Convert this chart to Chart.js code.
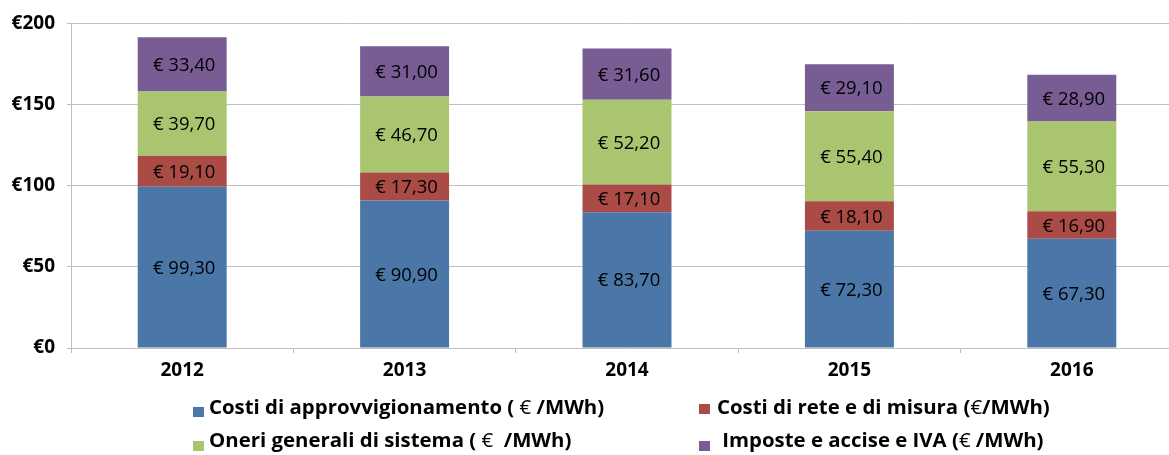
<!DOCTYPE html>
<html><head><meta charset="utf-8">
<script src="https://cdn.jsdelivr.net/npm/chart.js@4/dist/chart.umd.min.js"></script>
<style>
html,body{margin:0;padding:0;background:#fff;overflow:hidden;width:1169px;height:455px;}
#wrap{position:absolute;left:0;top:0;width:1183px;height:455px;}
#legend{position:absolute;left:0;top:0;width:1169px;height:455px;pointer-events:none;font-family:"Open Sans",sans-serif;font-weight:bold;font-size:20.4px;line-height:26px;color:#000;}
.txt{position:absolute;white-space:nowrap;}
.sw{position:absolute;width:11px;height:10px;}
.eu{font-weight:normal;}
</style></head>
<body>
<div id="wrap"><canvas id="c" width="1183" height="455"></canvas></div>
<div id="legend"></div>
<script>
const categories = ['2012', '2013', '2014', '2015', '2016'];
const seriesNames = [
  'Costi di approvvigionamento ( € /MWh)',
  'Costi di rete e di misura (€/MWh)',
  'Oneri generali di sistema ( €  /MWh)',
  ' Imposte e accise e IVA (€ /MWh)'
];
const approvvigionamento = [99.3, 90.9, 83.7, 72.3, 67.3];
const reteMisura = [19.1, 17.3, 17.1, 18.1, 16.9];
const oneriGenerali = [39.7, 46.7, 52.2, 55.4, 55.3];
const imposteIva = [33.4, 31.0, 31.6, 29.1, 28.9];
const yTicks = [0, 50, 100, 150, 200];
const seriesColors = ['#4A77A8', '#AA4B46', '#AAC56F', '#775D94'];

const seriesData = [approvvigionamento, reteMisura, oneriGenerali, imposteIva];

function fmtEuro(v) { return '€ ' + v.toFixed(2).replace('.', ','); }

const segLabels = {
  id: 'segLabels',
  afterDatasetsDraw(chart) {
    const ctx = chart.ctx;
    ctx.save();
    ctx.font = '18.5px "Open Sans"';
    ctx.fillStyle = '#000';
    ctx.textAlign = 'center';
    ctx.textBaseline = 'middle';
    chart.data.datasets.forEach((ds, i) => {
      const meta = chart.getDatasetMeta(i);
      meta.data.forEach((el, j) => {
        const p = el.getProps(['x', 'y', 'base'], true);
        ctx.fillText(fmtEuro(ds.data[j]), p.x + 2, (p.y + p.base) / 2 + 1.3);
      });
    });
    ctx.restore();
  }
};

const tickFont = { family: 'Open Sans', size: 19, weight: 'bold' };

new Chart(document.getElementById('c'), {
  type: 'bar',
  data: {
    labels: categories,
    datasets: seriesData.map((d, i) => ({
      label: seriesNames[i],
      data: d,
      backgroundColor: seriesColors[i],
      borderWidth: 0,
      categoryPercentage: 1,
      barPercentage: 0.4
    }))
  },
  options: {
    responsive: false,
    animation: false,
    layout: { padding: { top: 23, left: 0, right: 0, bottom: 75 } },
    plugins: { legend: { display: false }, tooltip: { enabled: false } },
    scales: {
      x: {
        stacked: true,
        offset: true,
        grid: { display: true, drawOnChartArea: false, drawTicks: true, tickLength: 5, offset: true, color: '#BFBFBF' },
        border: { display: true, color: '#BFBFBF' },
        ticks: { padding: 6, font: tickFont, color: '#000' },
        afterFit(s) { s.height = 32; }
      },
      y: {
        stacked: true,
        min: 0,
        max: 200,
        afterBuildTicks(s) { s.ticks = yTicks.map(v => ({ value: v })); },
        ticks: { padding: 12, font: tickFont, color: '#000', callback: v => '€' + v },
        grid: { color: '#BFBFBF', tickLength: 4 },
        border: { display: true, color: '#BFBFBF' },
        afterFit(s) { s.width = 71; }
      }
    }
  },
  plugins: [segLabels]
});

// HTML legend (two columns)
const legendPos = [
  { sx: 193, sy: 407, tx: 209, ty: 393 },
  { sx: 699, sy: 404, tx: 717, ty: 393 },
  { sx: 193, sy: 441, tx: 209, ty: 426 },
  { sx: 699, sy: 441, tx: 717, ty: 426 }
];
const lg = document.getElementById('legend');
seriesNames.forEach((name, i) => {
  const p = legendPos[i];
  const sw = document.createElement('div');
  sw.className = 'sw';
  sw.style.left = p.sx + 'px'; sw.style.top = p.sy + 'px';
  sw.style.background = seriesColors[i];
  lg.appendChild(sw);
  const t = document.createElement('div');
  t.className = 'txt';
  t.style.left = p.tx + 'px'; t.style.top = p.ty + 'px';
  const parts = name.split('€');
  t.appendChild(document.createTextNode(parts[0].replace(/ /g, '\u00a0')));
  const e = document.createElement('span'); e.className = 'eu'; e.textContent = '€';
  t.appendChild(e);
  t.appendChild(document.createTextNode(parts[1].replace(/ /g, '\u00a0')));
  lg.appendChild(t);
});
</script>
</body></html>
